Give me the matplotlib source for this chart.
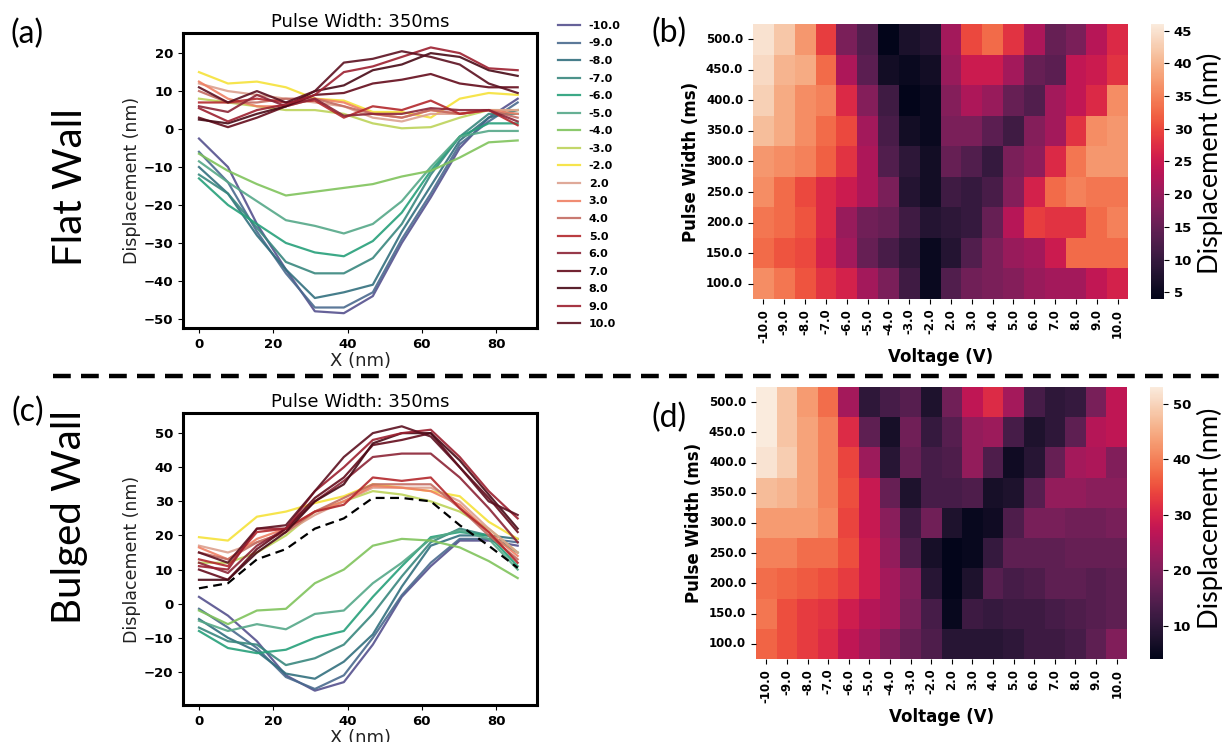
import numpy as np
import matplotlib
matplotlib.use("Agg")
import matplotlib.pyplot as plt
import seaborn as sns

# ---- data ----
x_nm = [0, 7.8, 15.6, 23.4, 31.2, 39.0, 46.8, 54.6, 62.4, 70.2, 78.0, 85.8]
voltages = [-10.0, -9.0, -8.0, -7.0, -6.0, -5.0, -4.0, -3.0, -2.0,
            2.0, 3.0, 4.0, 5.0, 6.0, 7.0, 8.0, 9.0, 10.0]
pulse_widths = [500.0, 450.0, 400.0, 350.0, 300.0, 250.0, 200.0, 150.0, 100.0]

flat_profiles = [
    [-2.5, -10, -25, -37, -48, -48.5, -44, -30, -18, -5, 3, 8],
    [-6, -14, -27, -38, -47, -47, -43, -29, -17, -4, 2, 7],
    [-10, -17, -28, -37, -44.5, -43, -41, -27, -15, -3, 3, 5],
    [-12, -17, -26, -35, -38, -38, -34, -25, -12, -2, 4, 4],
    [-13, -20, -25, -30, -32.5, -33.5, -29.5, -22, -11, -2, 1.5, 1.5],
    [-8.5, -14, -19, -24, -25.5, -27.5, -25, -19, -10, -2, -0.5, -0.5],
    [-6.5, -11, -14.5, -17.5, -16.5, -15.5, -14.5, -12.5, -11, -7.5, -3.5, -3],
    [8, 7, 6, 5, 5, 4, 1.5, 0.2, 0.5, 3, 5, 5],
    [15, 12, 12.5, 11, 8, 7.5, 4.5, 4.5, 3, 8, 9.5, 9],
    [12, 10, 9, 8, 7, 6, 3, 2, 4, 4, 5, 5],
    [12.5, 8, 6, 6, 8, 7, 4, 3, 5, 4, 5, 4],
    [10, 7, 7, 8, 8, 6, 4, 3, 5, 4, 5, 3],
    [7, 7, 8, 7, 7.5, 3, 6, 5, 7.5, 4, 5, 1],
    [6, 4.5, 9, 6, 8, 3.5, 4, 4, 5.5, 5, 5, 2],
    [3, 0.5, 3, 6, 9, 9.5, 12, 13, 14.5, 12, 11, 11],
    [2.5, 1.5, 4, 6, 10, 11.5, 15.5, 17, 20, 19, 15.5, 14],
    [5.5, 2, 5, 6.5, 9, 15, 16.5, 19, 21.5, 20, 16, 15.5],
    [11, 7, 10, 7, 10, 17.5, 18.5, 20.5, 19, 17, 12, 9.5],
]

bulged_profiles = [
    [2, -3.5, -11, -21, -25.5, -23, -12, 2, 11, 18.5, 18.5, 17],
    [-1.5, -7, -13, -21.5, -25, -21, -10, 2.5, 12, 19, 19, 18],
    [-4.5, -10, -14, -20.5, -22, -17, -9, 5, 17, 20, 20, 19],
    [-7, -11, -12, -18, -16, -12, -3, 8, 18, 22, 20, 15],
    [-8, -13, -14.5, -13.5, -10, -8, 2, 11, 19.5, 21, 20, 11],
    [-5, -8, -6, -7.5, -3, -2, 6, 12, 19, 21.5, 19, 10],
    [-2, -6, -2, -1.5, 6, 10, 17, 19, 18.5, 16.5, 12.5, 7.5],
    [12, 12, 15, 20, 27, 30, 33, 32, 30, 27, 22, 15],
    [19.5, 18.5, 25.5, 27, 29.5, 31.5, 35, 34, 33, 31.5, 24, 19],
    [17, 15, 18, 21, 26, 30, 34, 34, 34, 30, 22, 15],
    [16.5, 13, 19, 22, 27, 30, 34.5, 34, 33, 29, 21, 14],
    [15, 13, 18, 21, 27, 31, 35, 35, 35, 28, 20, 13],
    [13, 11, 21, 22, 27, 29, 37, 36, 37, 28, 21, 12],
    [12, 9, 17, 22, 30, 36, 43, 44, 44, 37, 28, 18],
    [10, 7, 16, 22, 31, 37, 46.5, 48, 50, 40, 31, 21],
    [7, 7, 15, 21, 30, 35, 47, 50, 50, 42, 32, 22],
    [11, 10, 22, 22, 33, 40, 48, 50, 51, 43, 33, 25],
    [15, 12, 22, 23, 33, 43, 50, 52, 49, 40, 30, 26],
]
bulged_reference = [4.5, 6, 13, 16, 22, 25, 31, 31, 30, 23, 17, 10.5]

flat_map = [
    [45, 42, 37, 29, 17, 13, 4, 7, 8, 21, 30, 33, 28, 22, 15, 17, 23, 27],
    [44, 40, 39, 33, 22, 14, 6, 5, 6, 20, 25, 25, 21, 15, 14, 24, 25, 28],
    [43, 39, 36, 35, 27, 18, 11, 4, 5, 18, 22, 20, 15, 13, 21, 24, 27, 36],
    [41, 39, 36, 33, 30, 21, 12, 6, 5, 17, 17, 14, 11, 18, 21, 28, 36, 37],
    [37, 36, 35, 32, 28, 22, 13, 9, 6, 15, 13, 10, 17, 19, 27, 34, 37, 37],
    [36, 33, 30, 27, 25, 22, 17, 8, 6, 11, 10, 12, 18, 26, 33, 35, 34, 34],
    [34, 33, 31, 27, 20, 16, 15, 11, 8, 9, 10, 15, 23, 29, 28, 28, 33, 35],
    [33, 31, 30, 26, 21, 15, 12, 9, 5, 8, 13, 17, 20, 21, 25, 33, 33, 33],
    [36, 34, 31, 28, 26, 21, 17, 11, 5, 13, 16, 17, 18, 20, 21, 21, 24, 26],
]

bulged_map = [
    [53, 48, 43, 38, 24, 10, 13, 15, 8, 18, 27, 31, 24, 13, 10, 11, 19, 27],
    [53, 48, 44, 40, 31, 16, 7, 18, 11, 15, 22, 23, 13, 8, 10, 16, 26, 27],
    [52, 49, 44, 40, 34, 23, 9, 17, 13, 14, 22, 14, 6, 9, 17, 24, 25, 20],
    [47, 46, 44, 40, 35, 28, 17, 8, 13, 13, 14, 7, 8, 15, 22, 22, 21, 21],
    [43, 43, 43, 41, 34, 28, 21, 12, 18, 8, 5, 6, 14, 19, 19, 18, 18, 19],
    [40, 40, 38, 38, 35, 29, 22, 14, 7, 4, 5, 11, 16, 16, 16, 17, 17, 17],
    [38, 37, 36, 35, 33, 29, 24, 20, 9, 4, 8, 15, 13, 14, 16, 16, 15, 16],
    [39, 35, 33, 32, 29, 26, 24, 19, 13, 5, 12, 11, 12, 12, 13, 14, 15, 16],
    [37, 35, 33, 31, 27, 24, 20, 17, 14, 9, 9, 9, 10, 12, 12, 13, 16, 20],
]

line_colors = ['#55518e', '#4a6a8e', '#33707f', '#39877f', '#27a07a', '#55a888',
               '#80c35c', '#bdd35a', '#f5e23a',
               '#dca08e', '#ef8064', '#c46c62', '#b3282c', '#8c2436',
               '#640c1c', '#480a16', '#9c2030', '#5c1020']

W, H = 1224, 742


def box(l, t, r, b):
    return [l / W, 1 - b / H, (r - l) / W, (b - t) / H]


fig = plt.figure(figsize=(W / 100, H / 100), dpi=100)
overlay_font = ['Lato', 'DejaVu Sans']


def line_panel(rect, profiles, ylim, yticks, legend=False, ref=None):
    ax = fig.add_axes(box(*rect))
    for v, prof, c in zip(voltages, profiles, line_colors):
        ax.plot(x_nm, prof, color=c, lw=1.6, alpha=0.9, label=f'{v:.1f}')
    if ref is not None:
        ax.plot(x_nm, ref, color='black', lw=1.6, ls='--', dashes=(4, 2.5))
    ax.set_xlim(-4.3, 91)
    ax.set_ylim(*ylim)
    ax.set_xticks([0, 20, 40, 60, 80])
    ax.set_yticks(yticks)
    for lab in ax.get_xticklabels() + ax.get_yticklabels():
        lab.set_fontweight('bold')
        lab.set_fontsize(9.5)
    for s in ax.spines.values():
        s.set_linewidth(2.2)
    ax.set_title('Pulse Width: 350ms', fontsize=13, pad=4)
    ax.set_xlabel('X (nm)', fontsize=13, labelpad=1, color='#222222')
    ax.set_ylabel('Displacement (nm)', fontsize=12.5, labelpad=2, color='#222222')
    if legend:
        ax.legend(loc='upper left', bbox_to_anchor=(1.03, 1.075), frameon=False,
                  prop={'weight': 'bold', 'size': 8}, handlelength=2.0,
                  labelspacing=0.68)
    return ax


line_panel((183, 33, 537, 328), flat_profiles, (-52.4, 25.3), [-50, -40, -30, -20, -10, 0, 10, 20], legend=True)
line_panel((183, 413, 537, 705), bulged_profiles, (-29.7, 55.9), [-20, -10, 0, 10, 20, 30, 40, 50], ref=bulged_reference)


def heat_panel(rect, cbar_rect, data, vmin, vmax, cticks):
    ax = fig.add_axes(box(*rect))
    cax = fig.add_axes(box(*cbar_rect))
    sns.heatmap(np.array(data), ax=ax, cbar_ax=cax, cmap='rocket', vmin=vmin, vmax=vmax,
                xticklabels=[f'{v:.1f}' for v in voltages],
                yticklabels=[f'{p:.1f}' for p in pulse_widths])
    ax.tick_params(axis='x', rotation=90, labelsize=8.5)
    ax.tick_params(axis='y', rotation=0, labelsize=8.5)
    for lab in ax.get_xticklabels() + ax.get_yticklabels():
        lab.set_fontweight('bold')
    ax.set_xlabel('Voltage (V)', fontsize=12, fontweight='bold')
    ax.set_ylabel('Pulse Width (ms)', fontsize=12, fontweight='bold')
    cax.set_yticks(cticks)
    cax.tick_params(labelsize=9.5)
    for lab in cax.get_yticklabels():
        lab.set_fontweight('bold')
    ax.collections[0].colorbar.outline.set_visible(False)
    return ax


heat_panel((753, 24, 1128, 299), (1151, 24, 1164, 299), flat_map, 4, 46, [5, 10, 15, 20, 25, 30, 35, 40, 45])
heat_panel((756, 387, 1127, 659), (1150, 387, 1163, 659), bulged_map, 4, 53, [10, 20, 30, 40, 50])

# colorbar labels
fig.text(1210 / W, 1 - 163 / H, 'Displacement (nm)', rotation=90, fontsize=19.5,
         family=overlay_font, ha='center', va='center')
fig.text(1210 / W, 1 - 518 / H, 'Displacement (nm)', rotation=90, fontsize=19.5,
         family=overlay_font, ha='center', va='center')

# panel letters
for lbl, px, py in [('(a)', 27, 34), ('(b)', 669, 33), ('(c)', 28, 412), ('(d)', 669, 418)]:
    fig.text(px / W, 1 - py / H, lbl, fontsize=23, family=overlay_font, ha='center', va='center')

# row labels
fig.text(70 / W, 1 - 187 / H, 'Flat Wall', rotation=90, fontsize=29,
         family=overlay_font, ha='center', va='center')
fig.text(69 / W, 1 - 517 / H, 'Bulged Wall', rotation=90, fontsize=29,
         family=overlay_font, ha='center', va='center')

# separator
fig.add_artist(plt.Line2D([53 / W, 1], [1 - 376 / H, 1 - 376 / H], color='black',
                          lw=3.2, ls='--', dashes=(4, 2.3), transform=fig.transFigure))

fig.savefig('out.png', dpi=100)
